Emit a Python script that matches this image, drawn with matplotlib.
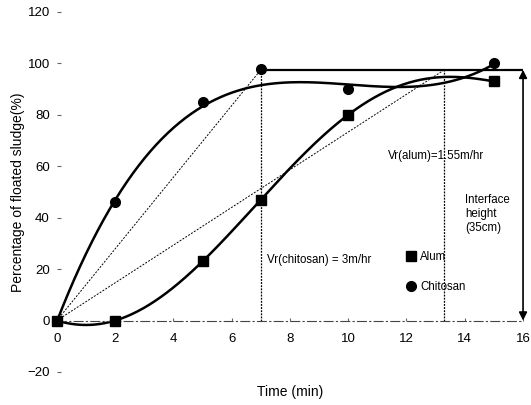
import numpy as np
import matplotlib
matplotlib.use("Agg")
import matplotlib.pyplot as plt

plt.rcParams['font.family'] = ['Liberation Sans', 'DejaVu Sans']

# Data
time = [0, 2, 5, 7, 10, 15]
alum = [0, 0, 23, 47, 80, 93]
chitosan = [0, 46, 85, 98, 90, 100]
chitosan_fit_weights = [4, 4, 2, 1, 2, 2]

interface_level = 97.5
t_chitosan = 7
t_alum = 13.3

x_ticks = [0, 2, 4, 6, 8, 10, 12, 14, 16]
y_ticks = [-20, 0, 20, 40, 60, 80, 100, 120]

fig = plt.figure(figsize=(5.31, 4.05), dpi=100)
ax = fig.add_axes([0.107, 0.0815, 0.878, 0.889])
ax.set_xlim(0, 16)
ax.set_ylim(-20, 120)

# fitted curves
xs = np.linspace(0, 15, 300)
pa = np.polyfit(time, alum, 5)
pc = np.polyfit(time, chitosan, 3, w=chitosan_fit_weights)
ax.plot(xs, np.polyval(pa, xs), color='black', lw=1.8, clip_on=False)
ax.plot(xs, np.polyval(pc, xs), color='black', lw=1.8, clip_on=False)

ax.plot(time, alum, 's', color='black', ms=7, clip_on=False, zorder=5, label='Alum')
ax.plot(time, chitosan, 'o', color='black', ms=7, clip_on=False, zorder=5, label='Chitosan')

# construction lines
ax.plot([t_chitosan, 16], [interface_level, interface_level], color='black', lw=1.6)
ax.plot([0, t_chitosan], [0, interface_level], color='black', lw=0.7, ls=(0, (2, 1.5)))
ax.plot([0, t_alum], [0, interface_level], color='black', lw=0.7, ls=(0, (2, 1.5)))
ax.plot([t_chitosan, t_chitosan], [0, interface_level], color='black', lw=0.9, ls=(0, (1.5, 1)))
ax.plot([t_alum, t_alum], [0, interface_level], color='black', lw=0.9, ls=(0, (1.5, 1)))
ax.annotate('', xy=(16, interface_level), xytext=(16, 0),
            arrowprops=dict(arrowstyle='<|-|>', color='black', lw=1.2,
                            mutation_scale=12, shrinkA=0, shrinkB=0),
            annotation_clip=False)

ax.text(11.35, 64, 'Vr(alum)=1.55m/hr', fontsize=8.3, ha='left', va='center')
ax.text(7.2, 23.5, 'Vr(chitosan) = 3m/hr', fontsize=8.3, ha='left', va='center')
ax.text(14.0, 41.5, 'Interface\nheight\n(35cm)', fontsize=8.3, ha='left', va='center',
        linespacing=1.25)

ax.legend(loc='upper left', bbox_to_anchor=(0.75, 0.335), frameon=False,
          fontsize=8.3, handlelength=0.8, handletextpad=0.4, labelspacing=1.55,
          borderpad=0, borderaxespad=0)

for s in ['top', 'right', 'left']:
    ax.spines[s].set_visible(False)
ax.spines['bottom'].set_position(('data', 0))
ax.spines['bottom'].set_linestyle((0, (8, 3, 1, 3)))
ax.spines['bottom'].set_linewidth(0.8)
ax.spines['bottom'].set_color('#444444')

ax.set_xticks(x_ticks)
ax.set_yticks(y_ticks)
ax.tick_params(axis='x', length=2, direction='in', pad=9, labelsize=9.5, color='#666666')
ax.tick_params(axis='y', length=3, direction='in', pad=5, labelsize=9.5, color='#666666')

ax.set_xlabel('Time (min)', fontsize=10)
ax.xaxis.set_label_coords(0.5, -0.035)
ax.set_ylabel('Percentage of floated sludge(%)', fontsize=10)
ax.yaxis.set_label_coords(-0.068, 0.5)

fig.savefig('out.png', dpi=100)
